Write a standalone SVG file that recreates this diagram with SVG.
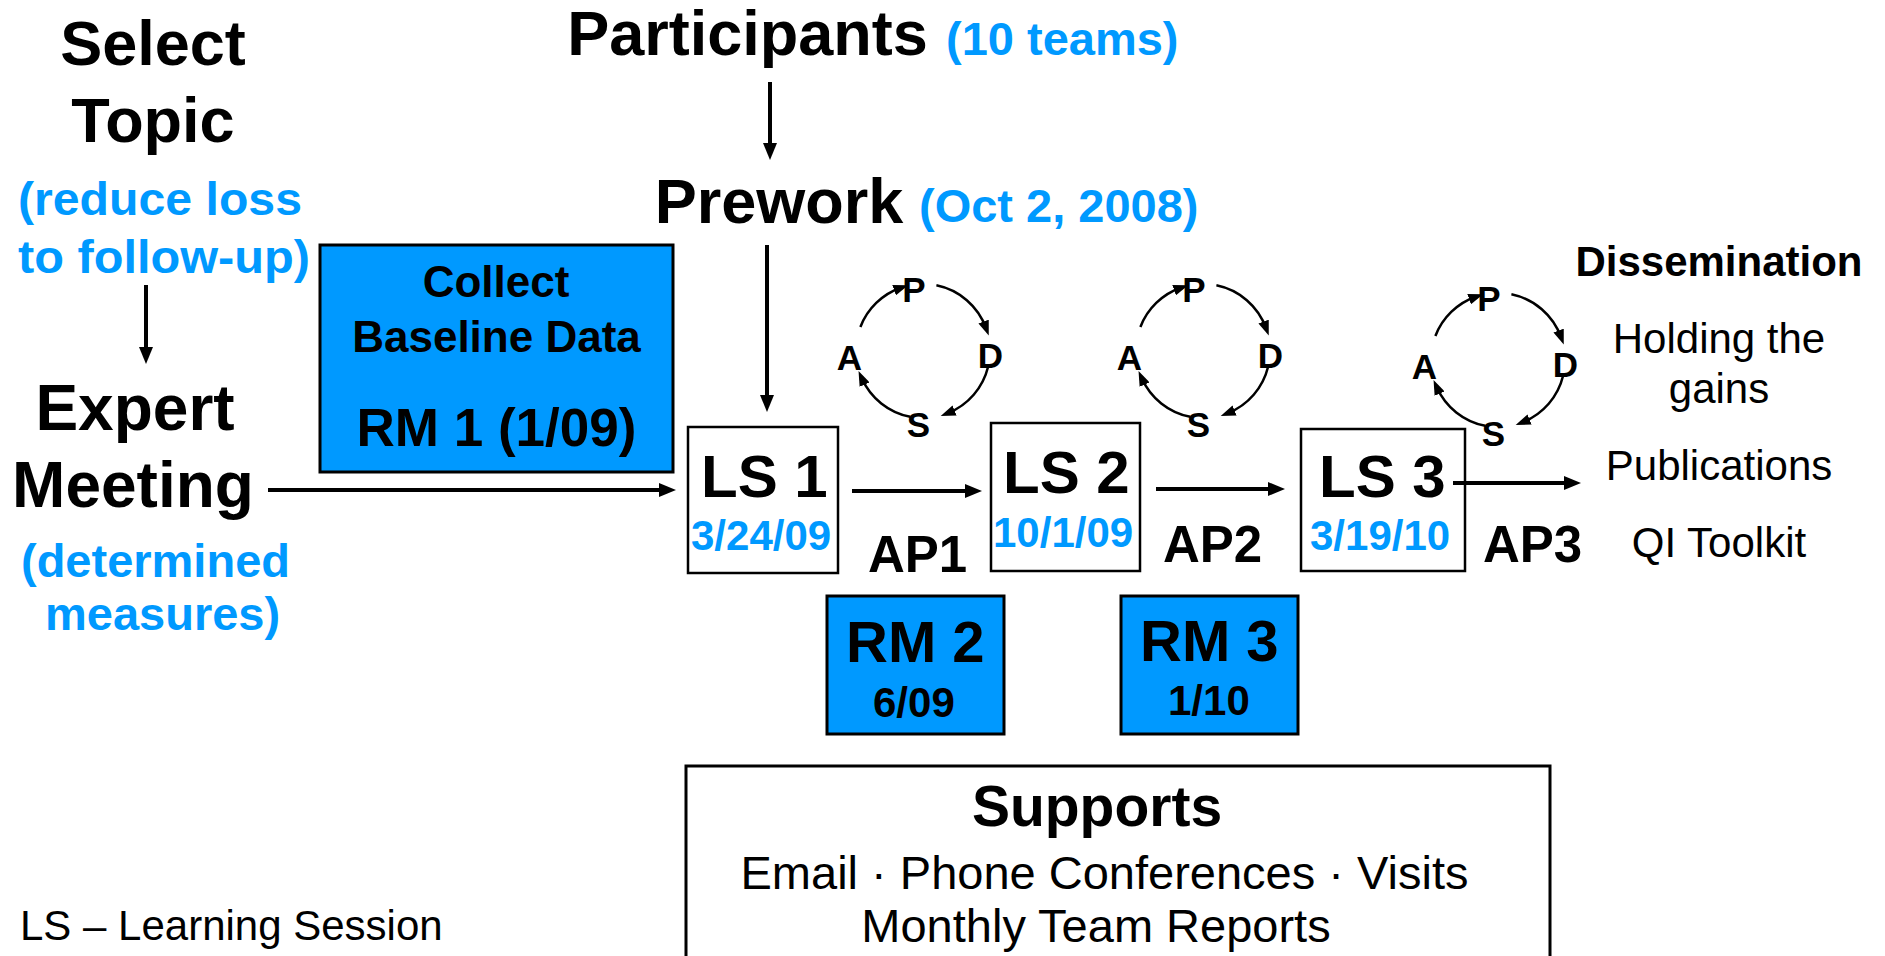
<svg xmlns="http://www.w3.org/2000/svg" width="1885" height="956" viewBox="0 0 1885 956">
<style>
text{font-family:"Liberation Sans",Arial,Helvetica,sans-serif;fill:#000}
.b{font-weight:bold}
.blue{fill:#0099ff}
.box{fill:#fff;stroke:#000;stroke-width:2.5}
.bbox{fill:#0099ff;stroke:#000;stroke-width:3}
.conn{stroke:#000;stroke-width:4;fill:none}
.arc{stroke:#000;stroke-width:2.5;fill:none}
.m{text-anchor:middle}
</style>
<defs>
<marker id="ah" viewBox="0 0 17 14" refX="9" refY="7" markerWidth="17" markerHeight="14" markerUnits="userSpaceOnUse" orient="auto"><path d="M0,0 L17,7 L0,14 z" fill="#000"/></marker>
<marker id="sm" viewBox="0 0 15 11" refX="7" refY="5.5" markerWidth="15" markerHeight="11" markerUnits="userSpaceOnUse" orient="auto"><path d="M0,0 L15,5.5 L0,11 z" fill="#000"/></marker>
<g id="pdsa">
<path class="arc" d="M860.4,327 A67,67 0 0 1 900.7,287.8" marker-end="url(#sm)"/>
<path class="arc" d="M936.4,285.3 A67,67 0 0 1 986,328.1" marker-end="url(#sm)"/>
<path class="arc" d="M988.1,366.8 A67,67 0 0 1 948.1,413.1" marker-end="url(#sm)"/>
<path class="arc" d="M910.2,416.8 A67,67 0 0 1 861.8,378.2" marker-end="url(#sm)"/>
<text class="b m" x="914" y="302" font-size="35">P</text>
<text class="b m" x="990.5" y="368" font-size="35">D</text>
<text class="b m" x="849.5" y="370" font-size="35">A</text>
<text class="b m" x="918.5" y="437" font-size="35">S</text>
</g>
</defs>

<g id="select-topic">
<text class="b m" x="153" y="65" font-size="63">Select</text>
<text class="b m" x="153" y="142" font-size="63">Topic</text>
<text class="b blue" x="18" y="215" font-size="46" textLength="284" lengthAdjust="spacingAndGlyphs">(reduce loss</text>
<text class="b blue" x="18" y="273" font-size="46" textLength="292" lengthAdjust="spacingAndGlyphs">to follow-up)</text>
</g>

<g id="expert-meeting">
<text class="b m" x="135" y="430" font-size="64">Expert</text>
<text class="b m" x="133" y="507" font-size="64">Meeting</text>
<text class="b blue" x="21" y="577" font-size="47">(determined</text>
<text class="b blue" x="45" y="630" font-size="47">measures)</text>
</g>

<g id="participants">
<text class="b m" x="747.5" y="55" font-size="63">Participants</text>
<text class="b blue" x="946" y="55" font-size="47">(10 teams)</text>
</g>

<g id="prework">
<text class="b m" x="779" y="223" font-size="63">Prework</text>
<text class="b blue" x="919" y="222" font-size="47">(Oct 2, 2008)</text>
</g>

<g id="rm1">
<rect class="bbox" x="320" y="245" width="353" height="227"/>
<text class="b m" x="496" y="297" font-size="44">Collect</text>
<text class="b m" x="496.5" y="352" font-size="44">Baseline Data</text>
<text class="b m" x="496.5" y="446" font-size="53">RM 1 (1/09)</text>
</g>

<g id="ls1">
<rect class="box" x="688" y="427" width="150" height="146"/>
<text class="b" x="701" y="497" font-size="60">LS 1</text>
<text class="b blue" x="691" y="550" font-size="42">3/24/09</text>
</g>

<g id="ls2">
<rect class="box" x="991" y="423" width="149" height="148"/>
<text class="b" x="1003" y="493" font-size="60">LS 2</text>
<text class="b blue" x="993" y="547" font-size="42">10/1/09</text>
</g>

<g id="ls3">
<rect class="box" x="1301" y="429" width="164" height="142"/>
<text class="b" x="1319" y="497" font-size="60">LS 3</text>
<text class="b blue" x="1310" y="550" font-size="42">3/19/10</text>
</g>

<g id="ap1"><text class="b" x="868" y="572" font-size="51">AP1</text></g>
<g id="ap2"><text class="b" x="1163" y="562" font-size="51">AP2</text></g>
<g id="ap3"><text class="b" x="1483" y="562" font-size="51">AP3</text></g>

<g id="rm2">
<rect class="bbox" x="827" y="596" width="177" height="138"/>
<text class="b" x="846" y="662" font-size="58">RM 2</text>
<text class="b" x="873" y="717" font-size="42">6/09</text>
</g>

<g id="rm3">
<rect class="bbox" x="1121" y="596" width="177" height="138"/>
<text class="b" x="1140" y="661" font-size="58">RM 3</text>
<text class="b" x="1168" y="715" font-size="42">1/10</text>
</g>

<g id="pdsa1"><use href="#pdsa"/></g>
<g id="pdsa2"><use href="#pdsa" transform="translate(280,0)"/></g>
<g id="pdsa3"><use href="#pdsa" transform="translate(575,9)"/></g>

<g id="dissemination">
<text class="b m" x="1719" y="276" font-size="42">Dissemination</text>
<text class="m" x="1719" y="353" font-size="42">Holding the</text>
<text class="m" x="1719" y="403" font-size="42">gains</text>
<text class="m" x="1719" y="480" font-size="42">Publications</text>
<text class="m" x="1719" y="557" font-size="42">QI Toolkit</text>
</g>

<g id="supports">
<rect x="686" y="766" width="864" height="210" fill="#fff" stroke="#000" stroke-width="3"/>
<text class="b m" x="1097" y="826" font-size="57">Supports</text>
<text class="m" x="1104.5" y="889" font-size="47">Email · Phone Conferences · Visits</text>
<text class="m" x="1096" y="942" font-size="47">Monthly Team Reports</text>
</g>

<g id="legend">
<text x="20" y="940" font-size="42">LS – Learning Session</text>
</g>

<g id="connectors">
<line class="conn" x1="146" y1="285" x2="146" y2="356" marker-end="url(#ah)"/>
<line class="conn" x1="770" y1="82" x2="770" y2="152" marker-end="url(#ah)"/>
<line class="conn" x1="767" y1="245" x2="767" y2="404" marker-end="url(#ah)"/>
<line class="conn" x1="268" y1="490" x2="668" y2="490" marker-end="url(#ah)"/>
<line class="conn" x1="852" y1="491" x2="974" y2="491" marker-end="url(#ah)"/>
<line class="conn" x1="1156" y1="489" x2="1277" y2="489" marker-end="url(#ah)"/>
<line class="conn" x1="1453" y1="483" x2="1573" y2="483" marker-end="url(#ah)"/>
</g>
</svg>
